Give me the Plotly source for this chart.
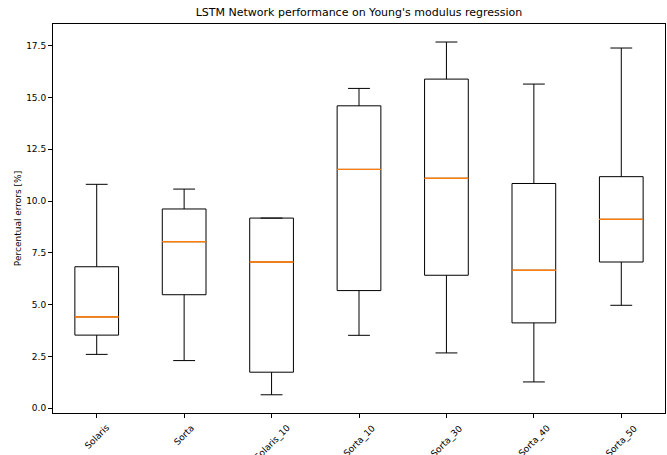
import plotly.graph_objects as go

categories = ["Solaris", "Sorta", "Solaris_10", "Sorta_10", "Sorta_30", "Sorta_40", "Sorta_50"]
lower_whisker = [2.60, 2.30, 0.65, 3.52, 2.67, 1.27, 4.97]
q1_values = [3.53, 5.48, 1.74, 5.68, 6.42, 4.12, 7.06]
medians = [4.41, 8.04, 7.06, 11.53, 11.10, 6.66, 9.12]
q3_values = [6.83, 9.62, 9.18, 14.60, 15.89, 10.85, 11.18]
upper_whisker = [10.81, 10.58, 9.18, 15.44, 17.68, 15.65, 17.39]

fig = go.Figure()
fig.add_trace(go.Box(
    x=categories, q1=q1_values, median=medians, q3=q3_values,
    lowerfence=lower_whisker, upperfence=upper_whisker,
    line=dict(color="black", width=1), fillcolor="rgba(0,0,0,0)",
    width=0.5, whiskerwidth=0.5, boxpoints=False, showlegend=False,
    hoverinfo="skip",
))
fig.add_trace(go.Box(
    x=categories, q1=medians, median=medians, q3=medians,
    lowerfence=medians, upperfence=medians,
    line=dict(color="#ff7f0e", width=1), fillcolor="rgba(0,0,0,0)",
    width=0.5, whiskerwidth=0, boxpoints=False, showlegend=False,
    hoverinfo="skip",
))

font = "DejaVu Sans, sans-serif"
fig.update_layout(
    width=667, height=455,
    margin=dict(l=53, r=2, t=24, b=42),
    plot_bgcolor="white", paper_bgcolor="white",
    boxmode="overlay",
    font=dict(family=font, size=10, color="black"),
    title=dict(text="LSTM Network performance on Young's modulus regression",
               x=0.5, xref="paper", xanchor="center", y=1, yref="container",
               yanchor="top", pad=dict(t=8), font=dict(size=11, color="black")),
)
# rotated category labels centred under their ticks (matplotlib-style)
for cat in categories:
    fig.add_annotation(
        x=cat, xref="x", y=0, yref="paper", yshift=-7,
        text=cat, textangle=-45, showarrow=False,
        xanchor="center", yanchor="top", font=dict(size=9, color="black"),
    )
fig.update_xaxes(
    type="category", range=[-0.5, 6.5], automargin=False, showticklabels=False,
    showline=True, mirror=True, linecolor="black", linewidth=1,
    ticks="outside", ticklen=4, tickcolor="black",
    showgrid=False, zeroline=False,
)
fig.update_yaxes(
    range=[-0.23, 18.55], tick0=0, dtick=2.5, tickformat=".1f", automargin=True,
    showline=True, mirror=True, linecolor="black", linewidth=1,
    ticks="outside", ticklen=4, tickcolor="black",
    showgrid=False, zeroline=False, tickfont=dict(size=9, color="black"),
    title=dict(text="Percentual errors [%]", font=dict(size=9, color="black"), standoff=3),
)
fig.write_html("out.html")
